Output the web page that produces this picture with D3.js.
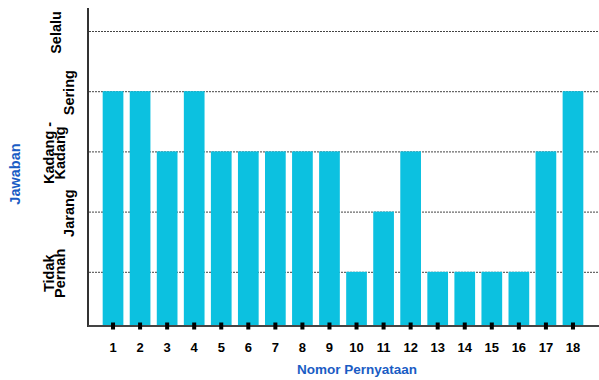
<!DOCTYPE html>
<html>
<head>
<meta charset="utf-8">
<script src="https://cdn.jsdelivr.net/npm/d3@7"></script>
<style>
  html, body { margin: 0; padding: 0; background: #fff; }
  svg { display: block; font-family: "Liberation Sans", Arial, sans-serif; font-weight: bold; }
</style>
</head>
<body>
<svg id="chart" width="599" height="380"></svg>
<script>
// Statement numbers along the x axis
const statements = ["1","2","3","4","5","6","7","8","9","10","11","12","13","14","15","16","17","18"];
// Answer level for each statement (1 = Tidak Pernah ... 5 = Selalu)
const answers = [4, 4, 3, 4, 3, 3, 3, 3, 3, 1, 2, 3, 1, 1, 1, 1, 3, 4];
// Answer scale levels and their (wrapped) labels
const levels = [1, 2, 3, 4, 5];
const levelLabels = [["Tidak", "Pernah"], ["Jarang"], ["Kadang -", "Kadang"], ["Sering"], ["Selalu"]];

const svg = d3.select("#chart");
const axisX = 88, plotBottom = 326, plotTop = 8, plotRight = 599;

const x = d3.scaleBand()
  .domain(statements)
  .range([99.5, 586.5])
  .paddingInner(0.235)
  .paddingOuter(0.1175);

const y = d3.scaleLinear().domain([0, 5]).range([332, 31]);

// dotted gridlines at each answer level
svg.append("g").selectAll("line")
  .data(levels)
  .join("line")
  .attr("x1", axisX + 1).attr("x2", plotRight)
  .attr("y1", d => y(d) + 0.5).attr("y2", d => y(d) + 0.5)
  .attr("stroke", "#444")
  .attr("stroke-width", 1)
  .attr("stroke-dasharray", "2,1");

// bars
svg.append("g").selectAll("rect")
  .data(answers)
  .join("rect")
  .attr("x", (d, i) => x(statements[i]))
  .attr("width", x.bandwidth())
  .attr("y", d => y(d))
  .attr("height", d => plotBottom - y(d))
  .attr("fill", "#0cc1e0");

// axis lines
svg.append("line")
  .attr("x1", axisX).attr("x2", axisX)
  .attr("y1", plotTop).attr("y2", plotBottom + 1)
  .attr("stroke", "#333").attr("stroke-width", 2);
svg.append("line")
  .attr("x1", axisX).attr("x2", plotRight)
  .attr("y1", plotBottom).attr("y2", plotBottom)
  .attr("stroke", "#444").attr("stroke-width", 2);

// x axis: heavy tick marks and statement numbers
const xAxis = svg.append("g")
  .attr("transform", `translate(0,${plotBottom})`)
  .call(d3.axisBottom(x).tickSize(0).tickPadding(0));
xAxis.select(".domain").remove();
xAxis.selectAll(".tick").append("rect")
  .attr("x", -2).attr("y", -3.5)
  .attr("width", 4).attr("height", 7)
  .attr("fill", "#000");
xAxis.selectAll(".tick text")
  .attr("y", 25.5).attr("dy", 0)
  .attr("fill", "#000")
  .attr("font-size", 13)
  .attr("font-family", "'Liberation Sans', Arial, sans-serif")
  .attr("font-weight", "bold");

// y axis category labels (rotated)
const yl = svg.append("g").selectAll("text")
  .data(levels)
  .join("text")
  .attr("transform", (d, i) => {
    const lines = levelLabels[i];
    const bx = lines.length > 1 ? 65 : (d === 5 ? 61 : 74);
    return `translate(${bx},${y(d) + 1.5}) rotate(-90)`;
  })
  .attr("text-anchor", "middle")
  .attr("font-size", 14.5)
  .attr("fill", "#000");
yl.each(function(d, i) {
  const lines = levelLabels[i];
  const t = d3.select(this);
  lines.forEach((s, k) => {
    t.append("tspan")
      .attr("x", 0)
      .attr("y", (k - (lines.length - 1)) * 11.5)
      .text(s);
  });
});

// axis titles
svg.append("text")
  .attr("transform", "translate(20,174) rotate(-90)")
  .attr("text-anchor", "middle")
  .attr("font-size", 14.5)
  .attr("fill", "#1a5cc4")
  .text("Jawaban");
svg.append("text")
  .attr("x", 357).attr("y", 374)
  .attr("text-anchor", "middle")
  .attr("font-size", 13.5)
  .attr("fill", "#1a5cc4")
  .text("Nomor Pernyataan");
</script>
</body>
</html>
